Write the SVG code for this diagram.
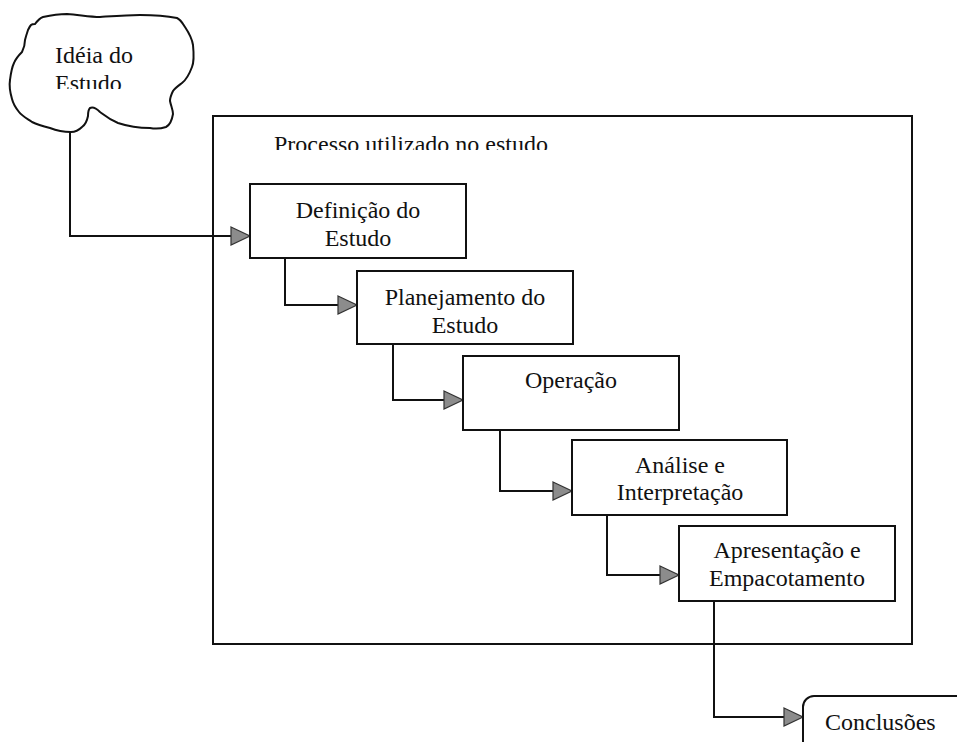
<svg xmlns="http://www.w3.org/2000/svg" width="957" height="742" viewBox="0 0 957 742">
  <style>
    .box { fill: #fff; stroke: #111; stroke-width: 2; }
    .frame { fill: none; stroke: #111; stroke-width: 2; }
    .lbl { font-family: "Liberation Serif", "Times New Roman", serif; font-size: 24px; fill: #111; }
    .mid { text-anchor: middle; }
    .wire { fill: none; stroke: #111; stroke-width: 2; }
  </style>
  <defs>
    <marker id="arrow" markerUnits="userSpaceOnUse" markerWidth="22" markerHeight="22" refX="20" refY="10" orient="auto">
      <path d="M1,1 L20,10 L1,19 Z" fill="#8c8c8c" stroke="#333" stroke-width="1.2"/>
    </marker>
    <clipPath id="clipTitle"><rect x="260" y="120" width="320" height="30"/></clipPath>
    <clipPath id="clipCloud"><rect x="40" y="30" width="110" height="59"/></clipPath>
  </defs>

  <!-- enclosing process frame -->
  <g id="processo">
    <rect class="frame" x="213" y="116" width="699" height="528"/>
    <text class="lbl" x="274" y="152" clip-path="url(#clipTitle)">Processo utilizado no estudo</text>
  </g>

  <!-- connectors -->
  <g id="connectors">
    <path class="wire" d="M70,132 V236 H250" marker-end="url(#arrow)"/>
    <path class="wire" d="M285,258 V305 H357" marker-end="url(#arrow)"/>
    <path class="wire" d="M393,344 V400 H463" marker-end="url(#arrow)"/>
    <path class="wire" d="M500,430 V491 H572" marker-end="url(#arrow)"/>
    <path class="wire" d="M607,515 V575 H679" marker-end="url(#arrow)"/>
    <path class="wire" d="M714,601 V717 H803" marker-end="url(#arrow)"/>
  </g>

  <!-- starting idea (cloud) -->
  <g id="ideia">
    <path class="box" d="M35,24 C38,20 40,18 43,17 C52,15 60,14 67,14 C80,15 90,17 100,17 C115,16 128,15 140,15 C155,15 167,16 177,18 C181,20 183,24 185,27 C189,33 192,38 193,45 C194,55 194,62 192,67 C189,75 186,80 182,83 C178,86 175,88 173,91 C171,95 170,98 170,101 C171,106 173,110 173,114 C172,120 170,125 166,127 C160,129 155,129 150,128 C140,128 130,127 118,123 C108,119 103,114 100,112 C96,108 92,107 90,108 C88,110 88,113 88,116 C87,121 85,125 82,127 C78,131 75,132 71,132 C62,132 55,130 50,128 C42,126 36,124 32,122 C26,118 22,116 19,112 C15,107 13,103 12,99 C10,92 9,86 10,80 C11,72 12,67 14,63 C16,58 19,55 22,52 C24,48 25,44 25,40 C26,36 27,33 28,30 C29,28 30,26 31,25 C32,24 33,24 35,24 Z"/>
    <text class="lbl" x="55" y="63">Idéia do</text>
    <text class="lbl" x="55" y="91" clip-path="url(#clipCloud)">Estudo</text>
  </g>

  <g id="definicao">
    <rect class="box" x="250" y="184" width="216" height="74"/>
    <text class="lbl mid" x="358" y="218">Definição do</text>
    <text class="lbl mid" x="358" y="246">Estudo</text>
  </g>

  <g id="planejamento">
    <rect class="box" x="357" y="271" width="216" height="73"/>
    <text class="lbl mid" x="465" y="305">Planejamento do</text>
    <text class="lbl mid" x="465" y="333">Estudo</text>
  </g>

  <g id="operacao">
    <rect class="box" x="463" y="356" width="216" height="74"/>
    <text class="lbl mid" x="571" y="388">Operação</text>
  </g>

  <g id="analise">
    <rect class="box" x="572" y="440" width="215" height="75"/>
    <text class="lbl mid" x="680" y="473">Análise e</text>
    <text class="lbl mid" x="680" y="500">Interpretação</text>
  </g>

  <g id="apresentacao">
    <rect class="box" x="679" y="526" width="216" height="75"/>
    <text class="lbl mid" x="787" y="558">Apresentação e</text>
    <text class="lbl mid" x="787" y="586">Empacotamento</text>
  </g>

  <g id="conclusoes">
    <rect class="box" x="803" y="696" width="200" height="100" rx="11"/>
    <text class="lbl" x="825" y="730">Conclusões</text>
  </g>
</svg>
